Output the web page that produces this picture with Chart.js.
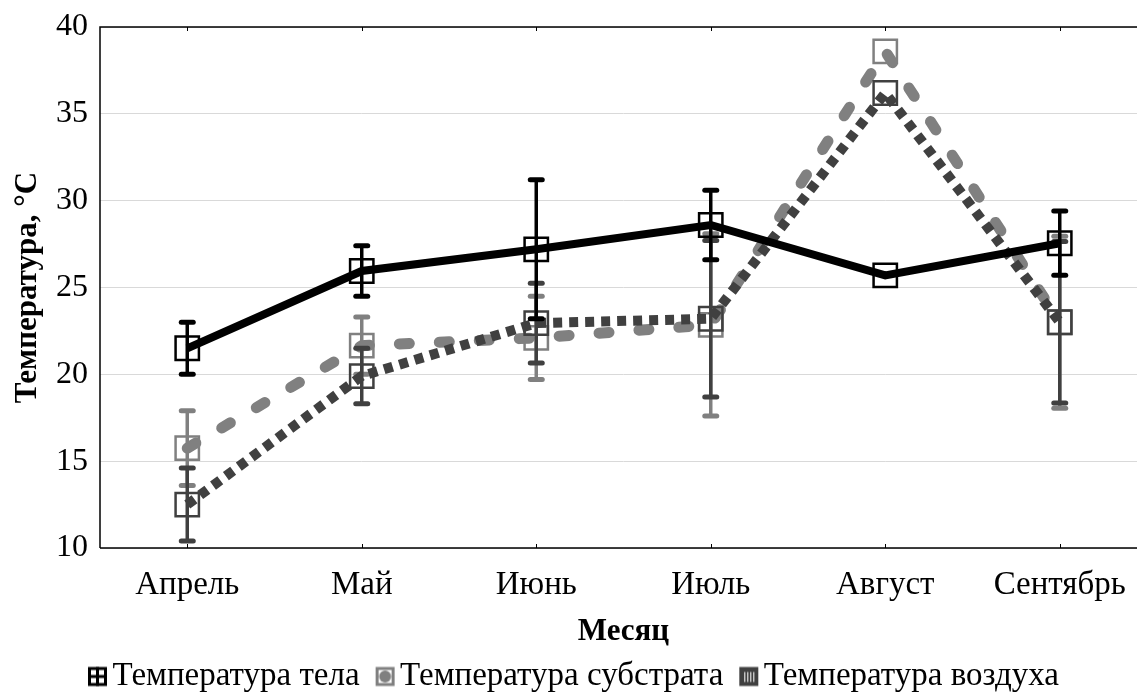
<!DOCTYPE html>
<html>
<head>
<meta charset="utf-8">
<script src="https://cdn.jsdelivr.net/npm/chart.js@4.4.1/dist/chart.umd.min.js"></script>
<style>
  html, body { margin: 0; padding: 0; background: #fff; overflow: hidden; }
  #wrap { width: 1246px; height: 692px; position: relative; }
</style>
</head>
<body>
<div id="wrap"><canvas id="c" width="1246" height="692"></canvas></div>
<script>
// ---- data ----
const months = ['Апрель', 'Май', 'Июнь', 'Июль', 'Август', 'Сентябрь'];
const seriesNames = ['Температура тела', 'Температура субстрата', 'Температура воздуха'];
const bodyTemp = [21.5, 25.95, 27.2, 28.6, 25.7, 27.55];
const bodyErr = [1.5, 1.45, 4.0, 2.0, 0, 1.85];
const substrateTemp = [15.75, 21.65, 22.1, 22.85, 38.6, 23.0];
const substrateErr = [2.15, 1.65, 2.4, 5.25, 0, 4.95];
const airTemp = [12.5, 19.9, 22.95, 23.2, 36.2, 23.0];
const airErr = [2.1, 1.6, 2.3, 4.5, 0, 4.65];
const yTicks = [10, 15, 20, 25, 30, 35, 40];

const colors = ['#000000', '#808080', '#404040'];
const FONT = "'Liberation Serif', 'Times New Roman', serif";

// ---- legend icons (icon drawn right-shifted inside a wider canvas) ----
function makeIcon(kind, color) {
  const c = document.createElement('canvas');
  c.width = 48; c.height = 22;
  const g = c.getContext('2d');
  g.translate(26, 1.5);
  g.strokeStyle = color; g.fillStyle = color;
  g.lineWidth = 3;
  g.strokeRect(1.5, 1.5, 16, 16);
  if (kind === 'plus') {
    g.fillRect(8, 0, 3, 19);
    g.fillRect(0, 8, 19, 3);
  } else if (kind === 'circle') {
    g.beginPath(); g.arc(9.5, 9.5, 6, 0, Math.PI * 2); g.fill();
  } else {
    g.fillRect(1, 1, 17, 17);
    g.strokeStyle = '#fff'; g.lineWidth = 1;
    for (const x of [5.5, 8.5, 11.5, 14.5]) { g.beginPath(); g.moveTo(x, 5); g.lineTo(x, 15); g.stroke(); }
  }
  return c;
}
const icons = [makeIcon('plus', colors[0]), makeIcon('circle', colors[1]), makeIcon('bars', colors[2])];

const errs = [bodyErr, substrateErr, airErr];

const errorBars = {
  id: 'errorBars',
  beforeDatasetDraw(chart, args) {
    const ds = chart.data.datasets[args.index];
    const e = errs[ds.errIndex];
    const y = chart.scales.y, x = chart.scales.x;
    const ctx = chart.ctx;
    ctx.save();
    ctx.strokeStyle = ds.borderColor;
    ds.data.forEach((v, k) => {
      if (!e[k]) return;
      const px = x.getPixelForValue(k);
      const top = y.getPixelForValue(v + e[k]);
      const bot = y.getPixelForValue(v - e[k]);
      ctx.lineCap = 'butt';
      ctx.lineWidth = 3.5;
      ctx.beginPath(); ctx.moveTo(px, top); ctx.lineTo(px, bot); ctx.stroke();
      ctx.lineCap = 'round';
      ctx.lineWidth = 5;
      for (const py of [top, bot]) {
        ctx.beginPath(); ctx.moveTo(px - 6, py); ctx.lineTo(px + 6, py); ctx.stroke();
      }
    });
    ctx.restore();
  }
};

const frame = {
  id: 'frame',
  afterLayout(chart) {
    const lg = chart.legend;
    lg.top += 11; lg.bottom += 11;
    lg.left -= 6; lg.right -= 6;
  },
  beforeDatasetsDraw(chart) {
    const a = chart.chartArea, ctx = chart.ctx, x = chart.scales.x;
    ctx.save();
    ctx.strokeStyle = '#000';
    ctx.lineWidth = 1.5;
    ctx.beginPath();
    ctx.moveTo(a.left, a.bottom); ctx.lineTo(a.left, a.top); ctx.lineTo(a.right, a.top);
    ctx.moveTo(a.left, a.bottom); ctx.lineTo(a.right, a.bottom);
    ctx.stroke();
    ctx.lineWidth = 1;
    for (let k = 0; k < months.length; k++) {
      const px = Math.round(x.getPixelForValue(k)) + 0.5;
      ctx.beginPath(); ctx.moveTo(px, a.bottom); ctx.lineTo(px, a.bottom - 4); ctx.stroke();
      ctx.beginPath(); ctx.moveTo(px, a.top); ctx.lineTo(px, a.top + 4); ctx.stroke();
    }
    ctx.restore();
  }
};

const sq = 16.5;
new Chart(document.getElementById('c'), {
  type: 'line',
  data: {
    labels: months,
    datasets: [
      { label: seriesNames[0], data: bodyTemp, errIndex: 0, order: 0,
        borderColor: colors[0], borderWidth: 8, tension: 0,
        pointStyle: 'rect', pointRadius: sq, pointBorderWidth: 2.5,
        pointBackgroundColor: 'rgba(0,0,0,0)', pointBorderColor: colors[0] },
      { label: seriesNames[1], data: substrateTemp, errIndex: 1, order: 2,
        borderColor: colors[1], borderWidth: 11, borderDash: [10, 30], borderCapStyle: 'round', tension: 0,
        pointStyle: 'rect', pointRadius: sq, pointBorderWidth: 2.5,
        pointBackgroundColor: 'rgba(0,0,0,0)', pointBorderColor: colors[1] },
      { label: seriesNames[2], data: airTemp, errIndex: 2, order: 1,
        borderColor: colors[2], borderWidth: 10, borderDash: [9, 7], borderCapStyle: 'butt', tension: 0,
        pointStyle: 'rect', pointRadius: sq, pointBorderWidth: 2.5,
        pointBackgroundColor: 'rgba(0,0,0,0)', pointBorderColor: colors[2] }
    ]
  },
  options: {
    responsive: false,
    animation: false,
    devicePixelRatio: 1,
    layout: { padding: { top: 27, right: 99, left: 0, bottom: 0 } },
    plugins: {
      tooltip: { enabled: false },
      legend: {
        position: 'bottom',
        labels: {
          font: { family: FONT, size: 33 },
          color: '#000',
          boxWidth: 20, boxHeight: 20,
          usePointStyle: true,
          padding: 4,
          generateLabels() {
            return seriesNames.map((n, i) => ({
              text: n, pointStyle: icons[i], datasetIndex: i,
              fillStyle: colors[i], strokeStyle: colors[i], lineWidth: 0, hidden: false, fontColor: '#000'
            }));
          }
        }
      }
    },
    scales: {
      x: {
        type: 'category',
        offset: true,
        grid: { display: false, drawTicks: false },
        border: { display: false },
        ticks: { font: { family: FONT, size: 33 }, color: '#000', padding: 18, maxRotation: 0 },
        title: { display: true, text: 'Месяц', font: { family: FONT, size: 31, weight: 'bold' }, color: '#000', padding: { top: 0, bottom: -6 } },
        afterFit(s) { s.height = 692 - 548 - s.chart.legend.height; }
      },
      y: {
        min: 10, max: 40,
        afterBuildTicks(s) { s.ticks = yTicks.map(v => ({ value: v })); },
        grid: { color: '#d9d9d9', lineWidth: 1, drawTicks: false },
        border: { display: false },
        ticks: { font: { family: FONT, size: 32, lineHeight: 0.8 }, color: '#000', padding: 12 },
        title: { display: true, text: 'Температура, °C', font: { family: FONT, size: 31, weight: 'bold' }, color: '#000', padding: { top: 9, bottom: 0 } },
        afterFit(s) { s.width = 100; }
      }
    }
  },
  plugins: [errorBars, frame]
});
</script>
</body>
</html>
